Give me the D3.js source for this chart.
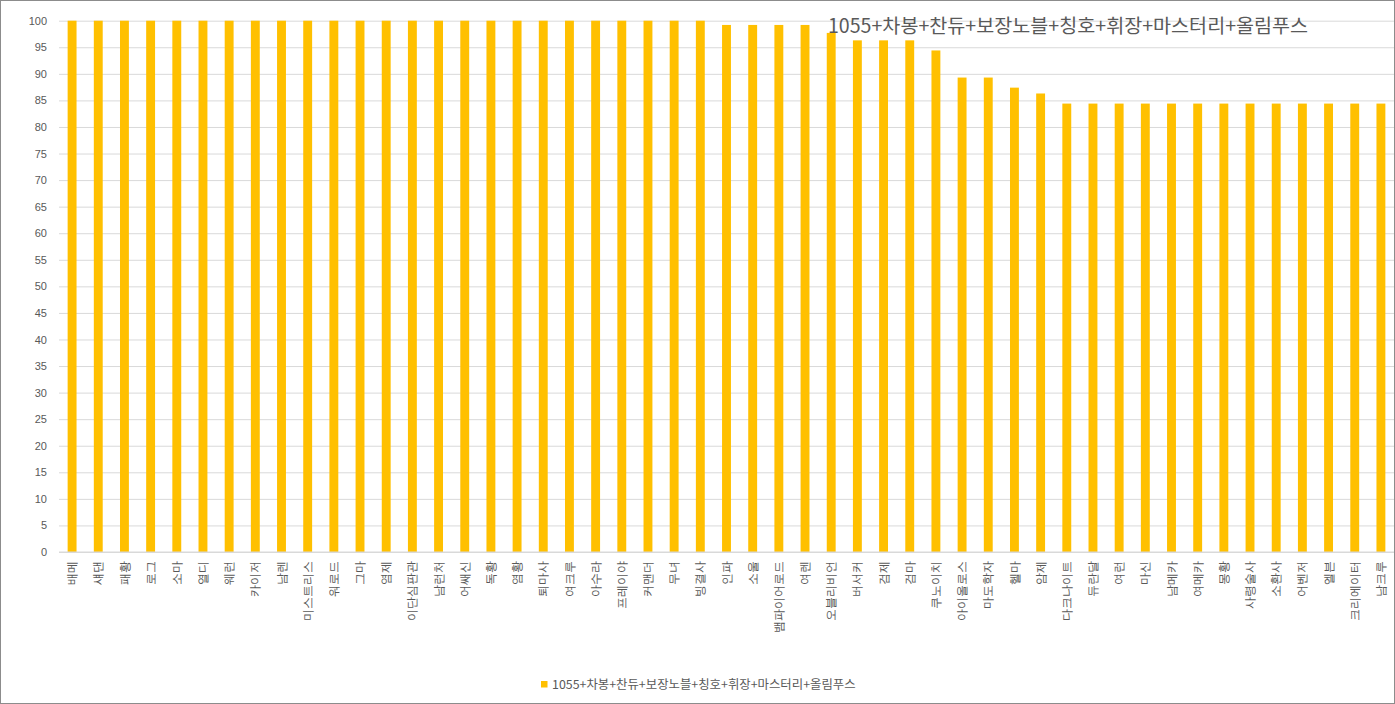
<!DOCTYPE html>
<html>
<head>
<meta charset="utf-8">
<script src="https://d3js.org/d3.v7.min.js"></script>
<style>
  body { margin: 0; background: #ffffff; }
  svg { display: block; font-family: "Noto Sans CJK KR", "Noto Sans", sans-serif; }
  .axis-text { fill: #595959; font-size: 11px; }
</style>
</head>
<body>
<svg id="svg1" width="1395" height="704"></svg>
<script>
// chart data
const seriesName = "1055+차봉+찬듀+보장노블+칭호+휘장+마스터리+올림푸스";

const categories = ["배메", "섀댄", "패황", "로그", "소마", "열디", "웨런", "카이저", "남렌", "미스트리스",
    "워로드", "그마", "염제", "이단심판관", "남런처", "어쌔신", "독황", "염황", "퇴마사", "여크루",
    "아수라", "프레이야", "커맨더", "무녀", "빙결사", "인파", "소울", "뱀파이어로드", "여렌", "오블리비언",
    "버서커", "검제", "검마", "쿠노이치", "아이올로스", "마도학자", "헬마", "암제", "다크나이트", "듀란달",
    "여런", "마신", "남메카", "여메카", "몽황", "사령술사", "소환사", "어벤저", "엘븐", "크리에이터", "남크루"];

const values = [100, 100, 100, 100, 100, 100, 100, 100, 100, 100,
    100, 100, 100, 100, 100, 100, 100, 100, 100, 100,
    100, 100, 100, 100, 100, 99.2, 99.2, 99.2, 99.2, 97.7,
    96.3, 96.3, 96.3, 94.4, 89.3, 89.3, 87.4, 86.3, 84.4, 84.4,
    84.4, 84.4, 84.4, 84.4, 84.4, 84.4, 84.4, 84.4, 84.4, 84.4, 84.4];

const yTicks = d3.range(0, 101, 5);

//chart global variables
const width = 1395;
const height = 704;
const plotLeft = 59;
const plotRight = 1394;
const plotTop = 20.7;
const plotBottom = 552;
const barColor = "#FFC000";
const gridColor = "#d9d9d9";
const textColor = "#595959";

const dataset = categories.map((c, i) => ({ name: c, value: values[i] }));

const svg = d3.select("#svg1");

svg.append("rect")
    .attr("x", 0.5)
    .attr("y", 0.5)
    .attr("width", width - 1)
    .attr("height", height - 1)
    .attr("fill", "#ffffff")
    .attr("stroke", "#8c8c8c");

const xScale = d3.scaleBand()
    .domain(categories)
    .range([plotLeft, plotRight])
    .paddingInner(0.66)
    .paddingOuter(0.33);

const yScale = d3.scaleLinear()
    .domain([0, 100])
    .range([plotBottom, plotTop]);

// gridlines + y labels
const leftAxis = d3.axisLeft(yScale)
    .tickValues(yTicks)
    .tickSize(-(plotRight - plotLeft))
    .tickPadding(12);

const gy = svg.append("g")
    .attr("class", "axis")
    .attr("transform", "translate(" + plotLeft + ",0)")
    .call(leftAxis);

gy.select(".domain").remove();
gy.selectAll(".tick line").attr("stroke", gridColor);
gy.selectAll(".tick text")
    .attr("class", "axis-text")
    .attr("font-family", null)
    .style("font-size", "11px")
    .attr("fill", textColor);

// bars
svg.selectAll("rect.bar")
    .data(dataset)
    .enter()
    .append("rect")
    .attr("class", "bar")
    .attr("x", d => xScale(d.name))
    .attr("y", d => yScale(d.value))
    .attr("width", xScale.bandwidth())
    .attr("height", d => plotBottom - yScale(d.value))
    .attr("fill", barColor);

// x axis
const bottomAxis = d3.axisBottom(xScale).tickSize(0).tickPadding(0);

const gx = svg.append("g")
    .attr("class", "axis")
    .attr("transform", "translate(0," + plotBottom + ")")
    .call(bottomAxis);

gx.select(".domain").attr("stroke", gridColor).attr("d", "M" + plotLeft + ",0H" + plotRight);
gx.selectAll(".tick text")
    .attr("class", "axis-text")
    .attr("font-family", null)
    .style("font-size", "11.7px")
    .attr("fill", textColor)
    .attr("text-anchor", "end")
    .attr("transform", "rotate(-90)")
    .attr("x", -9)
    .attr("y", 0)
    .attr("dy", "0.35em");

// chart title
svg.append("text")
    .attr("x", 828)
    .attr("y", 33)
    .text(seriesName)
    .attr("font-size", "19.6px")
    .attr("fill", textColor);

// legend
const legend = svg.append("g").attr("transform", "translate(541,681)");

legend.append("rect")
    .attr("width", 6.5)
    .attr("height", 6.5)
    .attr("fill", barColor);

legend.append("text")
    .attr("x", 11)
    .attr("y", 7.5)
    .text(seriesName)
    .attr("font-size", "12.4px")
    .attr("fill", textColor);
</script>
</body>
</html>
